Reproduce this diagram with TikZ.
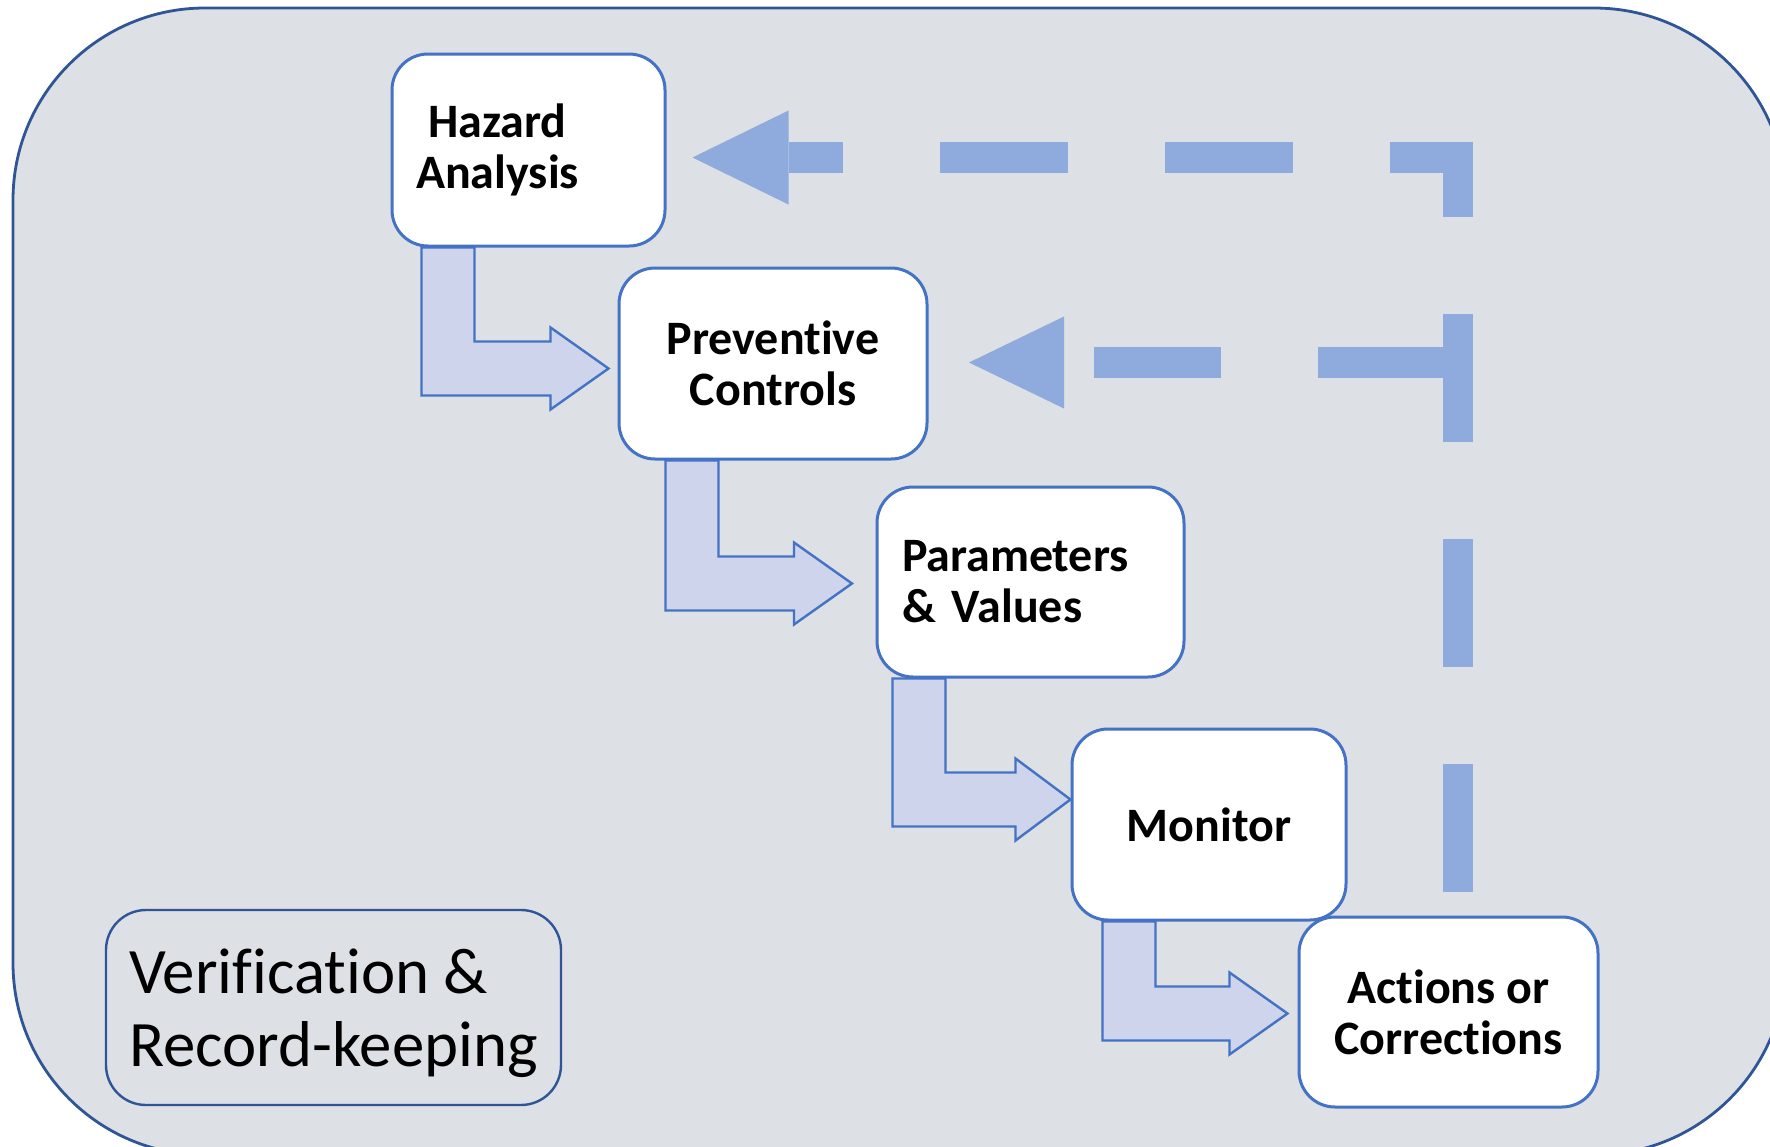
\documentclass[tikz,border=0pt]{standalone}
\usepackage{fontspec}
\setmainfont{Carlito}[Ligatures=NoCommon]
\usetikzlibrary{calc}

\definecolor{panelgray}{RGB}{221,224,229}
\definecolor{frameblue}{RGB}{47,85,151}
\definecolor{boxblue}{RGB}{68,114,196}
\definecolor{bentfill}{RGB}{205,212,235}
\definecolor{loopblue}{RGB}{143,170,220}

\tikzset{every picture/.style={line width=0.75pt}}
\tikzset{
  steptext/.style={align=center, inner sep=0pt, font=\fontsize{12}{12.8}\selectfont\bfseries},
  stepbox/.style={steptext, draw=boxblue, fill=white, rounded corners=9pt},
  benta/.style={draw=boxblue, fill=bentfill, line width=0.6pt},
  loopline/.style={draw=loopblue, line width=7.6pt, dash pattern=on 31.9pt off 24.3pt},
  loophead/.style={fill=loopblue}
}

\begin{document}
\begin{tikzpicture}[x=0.25pt,y=0.25pt,yscale=-1,xscale=1]
    \useasboundingbox (0,0) rectangle (1770,1147);
    \clip (0,0) rectangle (1770,1147);

    %Shape: Rounded Rectangle [panel]
    \draw [draw=frameblue, fill=panelgray, line width=0.7pt, rounded corners=48pt] (13,8) rectangle (1786,1155);

    % Text Node
    \node [draw=frameblue, line width=0.6pt, rounded corners=10pt, minimum width=113.75pt, minimum height=48.75pt, inner sep=0pt, text depth=0pt, align=left, font=\fontsize{16.2}{18.3}\selectfont] (verif) at (333.5,1007.5) {Verification \&\\Record-keeping};

    %Shape: Rounded Rectangle [steps]
    \node [stepbox, minimum width=68.25pt, minimum height=48pt] (haz) at (528.5,150) {};
    \node [steptext] (hazlbl) at ($(haz.center)+(-31,0)$) {Hazard\\Analysis};
    \node [stepbox, minimum width=77pt, minimum height=47.75pt] (prev) at (773,363.5) {Preventive\\Controls};
    \node [stepbox, minimum width=76.75pt, minimum height=47.5pt, align=left, text width=64.25pt, inner xsep=6.25pt] (par) at (1030.5,582) {Parameters\\\& Values};
    \node [stepbox, minimum width=68.5pt, minimum height=47.75pt] (mon) at (1209,824.5) {Monitor};
    \node [stepbox, minimum width=74.75pt, minimum height=47.5pt] (act) at (1448.5,1012) {Actions or\\Corrections};

    %Shape: Bent Arrow [haz -> prev]
    \coordinate (a1s) at ($(haz.south west)+(31,0)$);
    \coordinate (a1t) at ($(prev.west)+(-9,5)$);
    \draw [benta] (a1s) -- ++(53,0) |- ($(a1t)+(-58,-27)$) -- ++(0,-14) -- (a1t) -- ++(-58,41) -- ++(0,-14) -| (a1s) -- cycle;
    %Shape: Bent Arrow [prev -> par]
    \coordinate (a2s) at ($(prev.south west)+(48,0)$);
    \coordinate (a2t) at ($(par.west)+(-23.5,1.5)$);
    \draw [benta] (a2s) -- ++(53,0) |- ($(a2t)+(-58,-27)$) -- ++(0,-14) -- (a2t) -- ++(-58,41) -- ++(0,-14) -| (a2s) -- cycle;
    %Shape: Bent Arrow [par -> mon]
    \coordinate (a3s) at ($(par.south west)+(17,0)$);
    \coordinate (a3t) at ($(mon.west)+(0,-25)$);
    \draw [benta] (a3s) -- ++(53,0) |- ($(a3t)+(-55,-27)$) -- ++(0,-14) -- (a3t) -- ++(-55,41) -- ++(0,-14) -| (a3s) -- cycle;
    %Shape: Bent Arrow [mon -> act]
    \coordinate (a4s) at ($(mon.south west)+(32,0)$);
    \coordinate (a4t) at ($(act.west)+(-10,1.5)$);
    \draw [benta] (a4s) -- ++(53,0) |- ($(a4t)+(-58,-27)$) -- ++(0,-14) -- (a4t) -- ++(-58,41) -- ++(0,-14) -| (a4s) -- cycle;

    %Shape: Dashed feedback arrows [act -> haz, act -> prev]
    \coordinate (fbstart) at ($(act.north)+(9.5,-24)$);
    \coordinate (fbtip1) at ($(haz.east)+(26,7.5)$);
    \coordinate (fbtip2) at ($(prev.east)+(40.5,-1)$);
    \draw [loopline] (fbstart) |- ($(fbtip1)+(96,0)$);
    \fill [loophead] (fbtip1) -- ++(96,-47) -- ++(0,94) -- cycle;
    \draw [loopline] ($(fbtip2 -| fbstart)+(-12,0)$) -- ($(fbtip2)+(95,0)$);
    \fill [loophead] (fbtip2) -- ++(95,-46) -- ++(0,92) -- cycle;

\end{tikzpicture}
\end{document}
